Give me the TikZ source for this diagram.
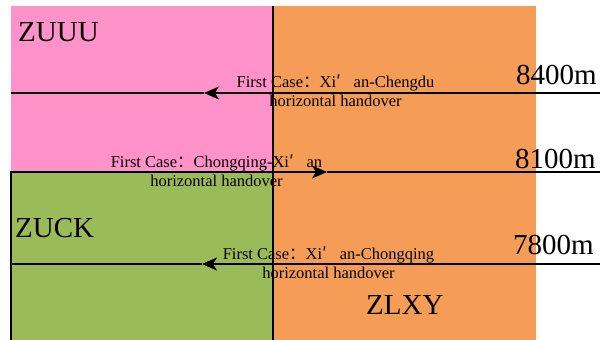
\documentclass[tikz,border=0pt]{standalone}
\usepackage{fontspec}
\setmainfont{Liberation Serif}
\newfontfamily\cjk{Noto Sans CJK SC}
\usetikzlibrary{arrows.meta}
\definecolor{pinkz}{RGB}{255,147,201}
\definecolor{orangez}{RGB}{245,157,87}
\definecolor{greenz}{RGB}{155,187,89}
\newcommand{\prm}{{\cjk ′}\hspace{13pt}}
\tikzset{
  ln/.style={line width=1.4pt,black},
  arr/.style={ln,-{Stealth[length=15pt,width=13pt,inset=4pt]}},
  big/.style={font=\fontsize{29}{32}\selectfont,inner sep=0pt,anchor=base west},
  lab/.style={font=\fontsize{16.5}{19}\selectfont,inner sep=0pt,anchor=base,align=center},
}
\begin{document}
\begin{tikzpicture}[x=1pt,y=-1pt]
\useasboundingbox (0,0) rectangle (600,340);
\fill[pinkz] (11,6) rectangle (273,172);
\fill[orangez] (273,6) rectangle (536,340);
\draw[ln,fill=greenz] (11,340) -- (11,172) -- (273,172) -- (273,340);
\draw[ln] (273,6) -- (273,340);
% lines
\coordinate (r1) at (600,93); \coordinate (a1) at (204,93); \coordinate (l1) at (11,93);
\coordinate (r2) at (600,172); \coordinate (a2) at (327,172); \coordinate (l2) at (273,172);
\coordinate (r3) at (600,264); \coordinate (a3) at (202,264); \coordinate (l3) at (11,264);
\draw[arr] (r1) -- (a1); \draw[ln] (a1) -- (l1);
\draw[arr] (l2) -- (a2); \draw[ln] (a2) -- (r2);
\draw[arr] (r3) -- (a3); \draw[ln] (a3) -- (l3);
% labels
\node[big] (zuuu) at (18,41) {ZUUU};
\node[big] (zuck) at (15,237) {ZUCK};
\node[big] (zlxy) at (366,314) {ZLXY};
\node[big] (h1) at (516,84) {8400m};
\node[big] (h2) at (515,168) {8100m};
\node[big] (h3) at (513,254) {7800m};
\node[lab] (t1) at (335.5,106) {First Case{\cjk ：}Xi\prm an-Chengdu\\horizontal handover};
\node[lab] (t2) at (216.5,186) {First Case{\cjk ：}Chongqing-Xi\prm an\\horizontal handover};
\node[lab] (t3) at (328.5,278) {First Case{\cjk ：}Xi\prm an-Chongqing\\horizontal handover};
\end{tikzpicture}
\end{document}
